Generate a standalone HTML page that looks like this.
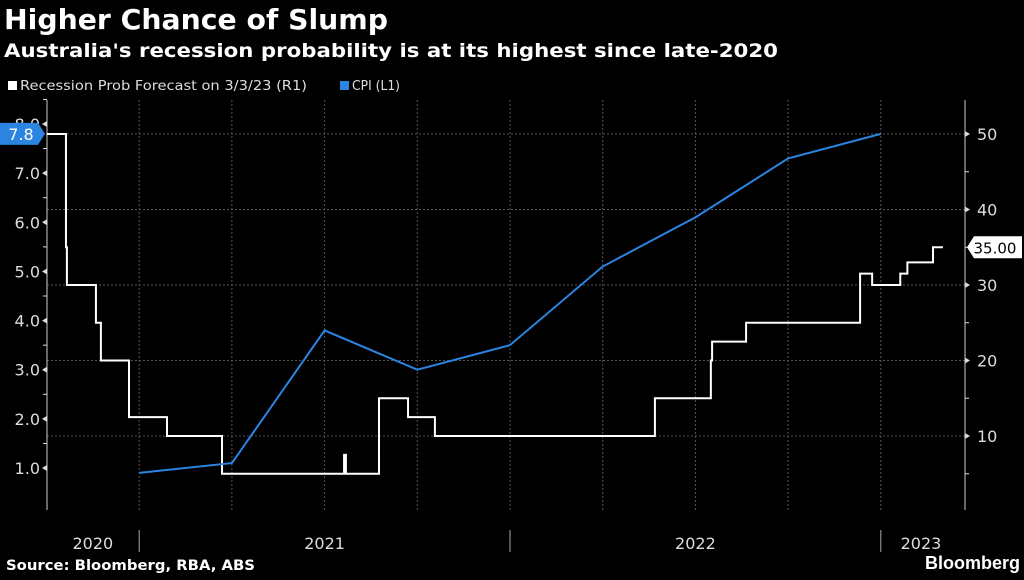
<!DOCTYPE html>
<html><head><meta charset="utf-8"><style>
body{margin:0;background:#000;width:1024px;height:576px;overflow:hidden;font-family:"DejaVu Sans",sans-serif;color:#fff}
svg text{font-family:"DejaVu Sans",sans-serif}
</style></head><body>
<svg id="c" width="1024" height="576" xmlns="http://www.w3.org/2000/svg">
<text x="4" y="29" font-size="28" font-weight="bold" fill="#fff" textLength="384" lengthAdjust="spacingAndGlyphs">Higher Chance of Slump</text>
<text x="4" y="57" font-size="19" font-weight="bold" fill="#fff" textLength="774" lengthAdjust="spacingAndGlyphs">Australia's recession probability is at its highest since late-2020</text>
<g>
<rect x="8" y="81" width="9" height="9" fill="#fff"/>
<text x="20" y="90" font-size="13" fill="#ddd" textLength="287" lengthAdjust="spacingAndGlyphs">Recession Prob Forecast on 3/3/23 (R1)</text>
<rect x="340" y="81" width="9" height="9" fill="#2a84e0"/>
<text x="352" y="90" font-size="13" fill="#ddd" textLength="48" lengthAdjust="spacingAndGlyphs">CPI (L1)</text>
</g>
<g id="grid"></g><g id="axes"></g><g id="series"></g>
<text x="6" y="570" font-size="14" font-weight="bold" fill="#fff" textLength="249" lengthAdjust="spacingAndGlyphs">Source: Bloomberg, RBA, ABS</text>
<text x="1020" y="569" font-size="18" font-weight="bold" fill="#fff" text-anchor="end" style="font-family:'Liberation Sans',sans-serif">Bloomberg</text>
</svg>
<script>
const cpiMonths=[3,6,9,12,15,18,21,24,27];
const cpiValues=[0.9,1.1,3.8,3.0,3.5,5.1,6.1,7.3,7.8];
const stepMonths=[0,0.63,0.66,0.7,1.6,1.76,2.67,3.9,5.68,9.63,9.69,10.76,11.7,12.57,19.69,21.5,21.54,21.64,22.64,26.33,26.72,27.63,27.86,28.69,29.01];
const stepValues=[50,35,30,30,25,20,12.5,10,5,7.5,5,15,12.5,10,15,20,22.5,22.5,25,31.5,30,31.5,33,35,35];
const leftTicks=[1,2,3,4,5,6,7,8];
const rightTicks=[10,20,30,40,50];
const yearLabels=["2020","2021","2022","2023"];
const yearMid=[1.5,9,21,28.3];
const sepMonths=[3,15,27];
const quarterMonths=[3,6,9,12,15,18,21,24,27];
const NS="http://www.w3.org/2000/svg";
const X0=46.5,PX=30.9,L=47,R=965;
const x=m=>X0+m*PX;
const yL=v=>468-(v-1)*49.14;
const yR=v=>134+(50-v)*7.55;
function mk(p,t,a){const e=document.createElementNS(NS,t);for(const k in a)e.setAttribute(k,a[k]);p.appendChild(e);return e;}
const g=document.getElementById('grid'),ax=document.getElementById('axes'),s=document.getElementById('series');
rightTicks.forEach(v=>{const l=mk(g,'line',{x1:L,x2:R,y1:yR(v),y2:yR(v),stroke:'#555','stroke-dasharray':'2,2'});


const t=mk(ax,'text',{x:R+12,y:yR(v)+6,'font-size':16,fill:'#ddd'});t.textContent=v;


mk(ax,'path',{d:`M${R} ${yR(v)-3}L${R+5} ${yR(v)}L${R} ${yR(v)+3}Z`,fill:'#ddd'});
mk(ax,'line',{x1:R,x2:R+4,y1:yR(v-5),y2:yR(v-5),stroke:'#ddd'});});
quarterMonths.forEach(m=>{const l=mk(g,'line',{x1:x(m),x2:x(m),y1:100,y2:510,stroke:'#555','stroke-dasharray':'2,2'});

});
mk(ax,'line',{x1:L,x2:L,y1:100,y2:510,stroke:'#ccc'});
mk(ax,'line',{x1:R,x2:R,y1:100,y2:510,stroke:'#ccc'});
leftTicks.forEach(v=>{const t=mk(ax,'text',{x:40,y:yL(v)+6,'font-size':16,fill:'#ddd','text-anchor':'end'});t.textContent=v.toFixed(1);


mk(ax,'path',{d:`M${L} ${yL(v)-3}L${L-5} ${yL(v)}L${L} ${yL(v)+3}Z`,fill:'#ddd'});
mk(ax,'line',{x1:L,x2:L-4,y1:yL(v+0.5),y2:yL(v+0.5),stroke:'#ddd'});});
sepMonths.forEach(m=>{const l=mk(ax,'line',{x1:x(m),x2:x(m),y1:530,y2:552,stroke:'#aaa'});

});
yearLabels.forEach((y,i)=>{const t=mk(ax,'text',{x:x(yearMid[i]),y:549,'font-size':16,fill:'#ddd','text-anchor':'middle'});t.textContent=y;

});
let d='';stepMonths.forEach((m,i)=>{d+=(i?`L${x(m)} ${yR(stepValues[i-1])}L`:'M')+`${x(m)} ${yR(stepValues[i])}`;});
const sl=mk(s,'path',{d,fill:'none',stroke:'#fff','stroke-width':2});


const cp=mk(s,'polyline',{points:cpiMonths.map((m,i)=>x(m)+','+yL(cpiValues[i])).join(' '),fill:'none',stroke:'#2a84e0','stroke-width':2});


const lc=cpiValues[cpiValues.length-1],ly=yL(lc);
const lb=mk(s,'path',{d:`M0 ${ly-11}H38L45 ${ly}L38 ${ly+11}H0Z`,fill:'#2a84e0'});


const lt=mk(s,'text',{x:21,y:ly+6,'font-size':16,fill:'#fff','text-anchor':'middle'});lt.textContent=lc.toFixed(1);


const lr=stepValues[stepValues.length-1],ry=yR(lr);
const rb=mk(s,'path',{d:`M${R+2} ${ry}L${R+9} ${ry-11}H1022V${ry+11}H${R+9}Z`,fill:'#fff'});


const rt=mk(s,'text',{x:995,y:ry+6,'font-size':15,fill:'#000','text-anchor':'middle'});rt.textContent=lr.toFixed(2);


</script>
</body></html>
